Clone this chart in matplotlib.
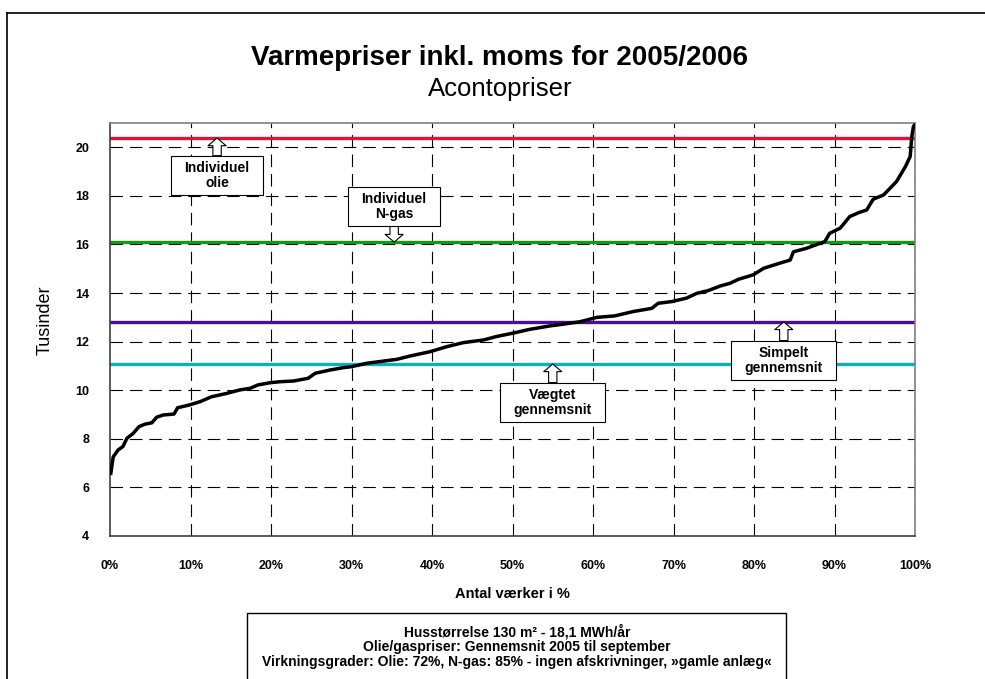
import matplotlib
matplotlib.use("Agg")
import matplotlib.pyplot as plt
from matplotlib.lines import Line2D
from matplotlib.patches import Rectangle
from matplotlib.path import Path

plt.rcParams['font.family'] = ['Liberation Sans', 'DejaVu Sans']
plt.rcParams['lines.scale_dashes'] = False

# ---- data ----
pct = [0.1, 0.4, 1.0, 1.6, 2.1, 2.9, 3.6, 4.3, 5.2, 5.8, 6.6, 7.95, 8.4, 9.7,
       11.2, 12.6, 14.5, 16.1, 17.4, 18.4, 19.9, 21.1, 22.8, 24.6, 25.5, 27.3,
       29.0, 30.0, 31.9, 35.6, 37.3, 39.8, 41.8, 43.9, 46.4, 48.0, 49.9, 52.2,
       54.7, 56.3, 58.4, 60.5, 62.7, 65.0, 67.3, 68.1, 69.8, 71.6, 72.9, 74.3,
       75.8, 77.0, 78.1, 79.9, 81.2, 83.2, 84.5, 84.9, 86.5, 88.8, 89.4, 90.7,
       91.9, 93.0, 94.0, 94.8, 96.1, 97.7, 98.8, 99.4, 99.6, 99.8, 99.9]
price = [6.58, 7.26, 7.54, 7.68, 8.02, 8.23, 8.50, 8.60, 8.66, 8.89, 8.98, 9.02,
         9.28, 9.38, 9.53, 9.73, 9.87, 10.01, 10.08, 10.22, 10.31, 10.35, 10.38,
         10.49, 10.70, 10.83, 10.93, 10.97, 11.11, 11.27, 11.41, 11.59, 11.79,
         11.96, 12.07, 12.21, 12.34, 12.51, 12.65, 12.72, 12.82, 13.00, 13.06,
         13.24, 13.37, 13.58, 13.65, 13.79, 13.99, 14.10, 14.29, 14.40, 14.57,
         14.75, 15.02, 15.23, 15.36, 15.70, 15.84, 16.12, 16.46, 16.67, 17.15,
         17.31, 17.42, 17.86, 18.04, 18.59, 19.20, 19.62, 20.44, 20.85, 20.90]

ref_names = ["Individuel\nolie", "Individuel\nN-gas", "Simpelt\ngennemsnit", "Vægtet\ngennemsnit"]
ref_values = [20.38, 16.10, 12.81, 11.08]
ref_colors = ["#DC143C", "#139A13", "#4B0C9E", "#0BB0BD"]
label_x = [13.3, 35.3, 83.7, 55.0]          # where the callout arrow points (%)
label_text_y = [18.84, 17.57, 11.23, 9.50]   # callout box centre

yticks = [4, 6, 8, 10, 12, 14, 16, 18, 20]
xticks = [0, 10, 20, 30, 40, 50, 60, 70, 80, 90, 100]

title = "Varmepriser inkl. moms for 2005/2006"
subtitle = "Acontopriser"
ylabel = "Tusinder"
xlabel = "Antal værker i %"
note_lines = ["Husstørrelse 130 m² - 18,1 MWh/år",
              "Olie/gaspriser: Gennemsnit 2005 til september",
              "Virkningsgrader: Olie: 72%, N-gas: 85% - ingen afskrivninger, »gamle anlæg«"]


def callout_box(x0, y0, width, height, mutation_size):
    px = 0.95 * mutation_size
    py = 0.35 * mutation_size
    verts = [(x0 - px, y0 - py), (x0 + width + px, y0 - py),
             (x0 + width + px, y0 + height + py), (x0 - px, y0 + height + py),
             (x0 - px, y0 - py)]
    return Path(verts, closed=True)


# ---- figure ----
W, H = 985, 679
fig = plt.figure(figsize=(W / 100, H / 100), dpi=100)
fig.patch.set_facecolor("white")

L, R, T, B = 110, 915, 123, 536
ax = fig.add_axes([L / W, 1 - B / H, (R - L) / W, (B - T) / H])
ax.set_xlim(0, 100)
ax.set_ylim(4, 21)

for v in yticks[1:]:
    ax.axhline(v, color="black", lw=0.8, ls=(0, (9, 5)), zorder=1)
for v in xticks[1:]:
    ax.axvline(v, color="black", lw=0.8, ls=(0, (9, 5)), zorder=1)

for v, c in zip(ref_values, ref_colors):
    ax.axhline(v, color=c, lw=2.4, zorder=2)

ax.plot(pct, price, color="black", lw=2.5, zorder=3, solid_joinstyle="round")

ax.set_xticks(xticks)
ax.set_xticklabels([f"{t}%" for t in xticks], fontsize=9, fontweight="bold")
ax.set_yticks(yticks)
ax.set_yticklabels([str(t) for t in yticks], fontsize=9, fontweight="bold")
ax.tick_params(axis="both", length=0)
ax.tick_params(axis="x", pad=17)
ax.tick_params(axis="y", pad=15)
for s in ax.spines.values():
    s.set_color("#808080")
    s.set_linewidth(1.2)
ax.spines["left"].set_color("#404040")
ax.spines["bottom"].set_color("#404040")

# callouts
for name, xv, yv, ty, in zip(ref_names, label_x, ref_values, label_text_y):
    ax.annotate(name, xy=(xv, yv), xytext=(xv, ty), ha="center", va="center",
                fontsize=10, fontweight="bold", linespacing=1.1, zorder=5,
                bbox=dict(boxstyle=callout_box, fc="white", ec="black", lw=0.8),
                arrowprops=dict(arrowstyle="simple,head_length=0.55,head_width=1.3,tail_width=0.6",
                                fc="white", ec="black", lw=0.8, mutation_scale=10,
                                shrinkA=0, shrinkB=0))

fig.text(45 / W, 1 - 320 / H, ylabel, rotation=90, ha="center", va="center", fontsize=13)
fig.text(512 / W, 1 - 594 / H, xlabel, ha="center", va="center", fontsize=10.5, fontweight="bold")
fig.text(500 / W, 1 - 58 / H, title, ha="center", va="center", fontsize=20, fontweight="bold")
fig.text(500 / W, 1 - 89 / H, subtitle, ha="center", va="center", fontsize=18.5)

# outer frame (runs off the right and bottom edges)
fig.add_artist(Line2D([7 / W, 1.01], [1 - 13 / H, 1 - 13 / H], color="black", lw=1.2,
                      transform=fig.transFigure))
fig.add_artist(Line2D([7 / W, 7 / W], [1 - 13 / H, -0.01], color="black", lw=1.2,
                      transform=fig.transFigure))

# note box
fig.add_artist(Rectangle((247 / W, -0.02), (786 - 247) / W, 1 - 613 / H + 0.02,
                         transform=fig.transFigure, fc="white", ec="black", lw=1.0))
for i, line in enumerate(note_lines):
    fig.text(517 / W, 1 - (632 + 15 * i) / H, line, ha="center", va="center",
             fontsize=10, fontweight="bold")

fig.savefig("out.png", dpi=100)
